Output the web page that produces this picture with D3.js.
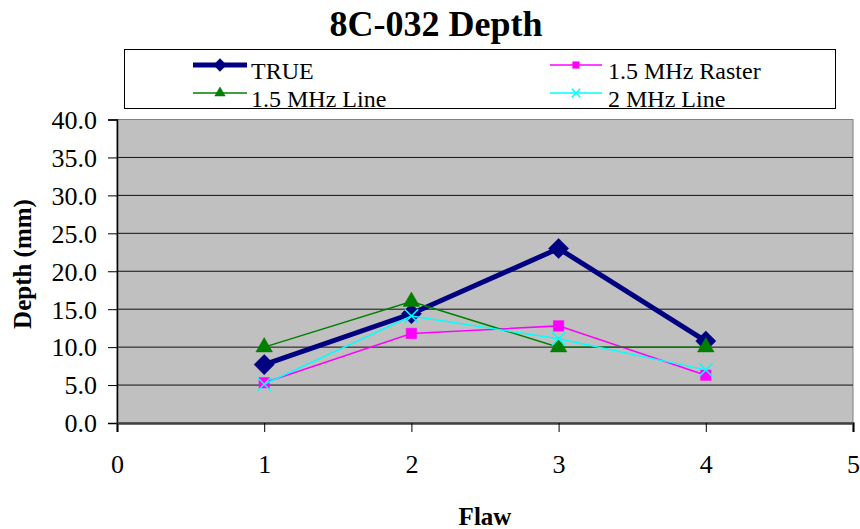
<!DOCTYPE html>
<html>
<head>
<meta charset="utf-8">
<script src="https://cdn.jsdelivr.net/npm/d3@7"></script>
<style>
body { margin: 0; background: #fff; }
svg text { font-family: "Liberation Serif", "Times New Roman", serif; fill: #000; }
</style>
</head>
<body>
<svg id="chart" width="860" height="529"></svg>
<script>
const svg = d3.select("#chart"),
    width = +svg.attr("width"),
    height = +svg.attr("height");

// data
const flaws = [1, 2, 3, 4];
const trueDepth = [7.7, 14.4, 23.0, 10.8];
const raster15 = [5.3, 11.8, 12.8, 6.3];
const line15 = [10.0, 16.0, 10.0, 10.0];
const line2 = [5.1, 14.1, 11.1, 7.0];
const xTicks = [0, 1, 2, 3, 4, 5];
const yTicks = [0, 5, 10, 15, 20, 25, 30, 35, 40];

const series = [
    {name: "TRUE", values: trueDepth, color: "#000080", width: 5, symbol: "diamond"},
    {name: "1.5 MHz Raster", values: raster15, color: "#FF00FF", width: 1.5, symbol: "square"},
    {name: "1.5 MHz Line", values: line15, color: "#008000", width: 1.5, symbol: "triangle"},
    {name: "2 MHz Line", values: line2, color: "#00FFFF", width: 1.5, symbol: "cross"}
];

const plot = {left: 117, right: 853, top: 119.5, bottom: 423};

const x = d3.scaleLinear().domain([0, 5]).range([plot.left, plot.right]);
const y = d3.scaleLinear().domain([0, 40]).range([plot.bottom, plot.top]);

// plot background
svg.append("rect")
    .attr("x", plot.left).attr("y", plot.top)
    .attr("width", plot.right - plot.left)
    .attr("height", plot.bottom - plot.top)
    .attr("fill", "#C0C0C0")
    .attr("stroke", "#808080")
    .attr("stroke-width", 1);

// gridlines
svg.append("g")
    .selectAll("line")
    .data(yTicks.slice(1, -1))
    .enter()
    .append("line")
    .attr("x1", plot.left).attr("x2", plot.right)
    .attr("y1", d => y(d)).attr("y2", d => y(d))
    .attr("stroke", "#111")
    .attr("stroke-width", 1);

// axes
const yAxis = svg.append("g")
    .attr("transform", `translate(${plot.left},0)`)
    .call(d3.axisLeft(y).tickValues(yTicks).tickSize(9).tickPadding(11)
        .tickFormat(d3.format(".1f")));
const xAxis = svg.append("g")
    .attr("transform", `translate(0,${plot.bottom})`)
    .call(d3.axisBottom(x).tickValues(xTicks).tickSize(9).tickPadding(23)
        .tickFormat(d3.format("d")));

[yAxis, xAxis].forEach(function (a) {
    a.attr("font-family", null).attr("font-size", null);
    a.select(".domain").attr("stroke", "#000");
    a.selectAll(".tick line").attr("stroke", "#000");
    a.selectAll("text")
        .style("font-family", "'Liberation Serif', 'Times New Roman', serif")
        .style("font-size", "26px");
});
yAxis.selectAll("text").attr("dy", "0.34em");
xAxis.select(".domain").attr("stroke", "#404040").attr("stroke-width", 2.5);
yAxis.select(".domain").attr("stroke-width", 1.5);

// lines and markers
const line = d3.line()
    .x((d, i) => x(flaws[i]))
    .y(d => y(d));

function symbolPath(kind, big) {
    const k = big ? 1 : 0.4;
    if (kind === "diamond") return d3.symbol().type(d3.symbolDiamond2).size(260 * k)();
    if (kind === "square") return d3.symbol().type(d3.symbolSquare).size(110 * k)();
    if (kind === "triangle") return d3.symbol().type(d3.symbolTriangle).size(120 * k)();
    return d3.symbol().type(d3.symbolX).size(120 * k)();
}

function drawMarker(g, s, cx, cy, big) {
    const p = g.append("path")
        .attr("d", symbolPath(s.symbol, big))
        .attr("transform", `translate(${cx},${cy})`);
    if (s.symbol === "cross") {
        p.attr("fill", "none").attr("stroke", s.color).attr("stroke-width", 1.5);
    } else {
        p.attr("fill", s.color).attr("stroke", s.color).attr("stroke-width", 0.5);
    }
}

series.forEach(function (s) {
    const g = svg.append("g");
    g.append("path")
        .datum(s.values)
        .attr("d", line)
        .attr("fill", "none")
        .attr("stroke", s.color)
        .attr("stroke-width", s.width)
        .attr("stroke-linejoin", "miter");
    s.values.forEach(function (v, i) {
        drawMarker(g, s, x(flaws[i]), y(v), true);
    });
});

// title and axis labels
svg.append("text")
    .attr("x", 436).attr("y", 36)
    .attr("text-anchor", "middle")
    .style("font-size", "36px")
    .style("font-weight", "bold")
    .text("8C-032 Depth");

svg.append("text")
    .attr("x", (plot.left + plot.right) / 2).attr("y", 525)
    .attr("text-anchor", "middle")
    .style("font-size", "25px")
    .style("font-weight", "bold")
    .text("Flaw");

svg.append("text")
    .attr("transform", `translate(31,264) rotate(-90)`)
    .attr("text-anchor", "middle")
    .style("font-size", "25px")
    .style("font-weight", "bold")
    .text("Depth (mm)");

// legend
const legend = svg.append("g");
legend.append("rect")
    .attr("x", 124.5).attr("y", 49.5)
    .attr("width", 711).attr("height", 59)
    .attr("fill", "#fff")
    .attr("stroke", "#000")
    .attr("stroke-width", 1);

const legendPos = [[193, 65], [550, 65], [193, 93], [550, 93]];
series.forEach(function (s, i) {
    const [lx, ly] = legendPos[i];
    const lw = i % 2 === 0 ? 54 : 52;
    legend.append("line")
        .attr("x1", lx).attr("x2", lx + lw)
        .attr("y1", ly).attr("y2", ly)
        .attr("stroke", s.color)
        .attr("stroke-width", s.width);
    drawMarker(legend, s, lx + lw / 2, ly, false);
    legend.append("text")
        .attr("x", lx + lw + (i % 2 === 0 ? 4 : 6)).attr("y", ly + 14)
        .style("font-size", "24px")
        .text(s.name);
});
</script>
</body>
</html>
